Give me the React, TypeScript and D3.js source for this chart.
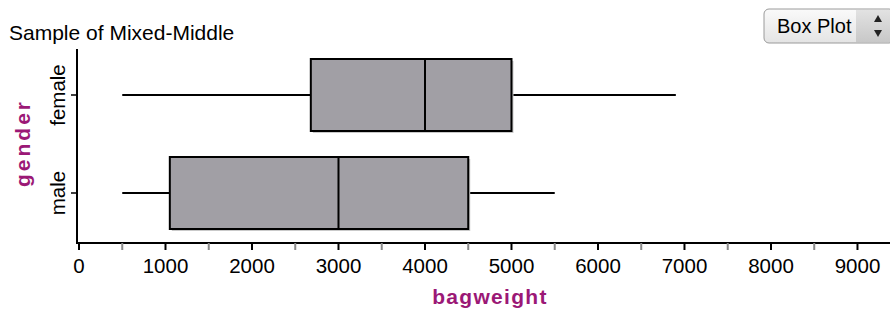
import * as d3 from 'd3';
import { useEffect, useRef } from 'react';

const categories = ['female', 'male'];
const whiskerLow = [500, 500];
const q1 = [2680, 1050];
const medians = [4000, 3000];
const q3 = [5000, 4500];
const whiskerHigh = [6900, 5500];
const majorTicks = [0, 1000, 2000, 3000, 4000, 5000, 6000, 7000, 8000, 9000];
const minorTicks = [500, 1500, 2500, 3500, 4500, 5500, 6500, 7500, 8500, 9500];

const W = 890;
const H = 311;
const purple = '#9b1876';
const boxFill = '#a19fa5';
const font = '"Liberation Sans", Arial, sans-serif';

export default function App() {
  const svgRef = useRef<SVGSVGElement>(null);

  useEffect(() => {
    if (!svgRef.current) return;
    const svg = d3.select(svgRef.current);
    svg.selectAll('*').remove();

    const x = d3.scaleLinear().domain([0, 9376]).range([79, 890]);
    const y = d3.scaleBand().domain(categories).range([46, 242]).padding(0);
    const axisY = 243;
    const boxH = 72;

    const defs = svg.append('defs');
    const grad = defs.append('linearGradient').attr('id', 'btn').attr('x1', 0).attr('y1', 0).attr('x2', 0).attr('y2', 1);
    grad.append('stop').attr('offset', '0%').attr('stop-color', '#fafafa');
    grad.append('stop').attr('offset', '100%').attr('stop-color', '#e4e4e4');
    const grad2 = defs.append('linearGradient').attr('id', 'spin').attr('x1', 0).attr('y1', 0).attr('x2', 0).attr('y2', 1);
    grad2.append('stop').attr('offset', '0%').attr('stop-color', '#e2e2e2');
    grad2.append('stop').attr('offset', '100%').attr('stop-color', '#c8c8c8');

    // title
    svg.append('text')
      .attr('x', 9).attr('y', 40)
      .style('font-family', font).style('font-size', '21px').style('fill', '#000')
      .text('Sample of Mixed-Middle');

    // Box Plot control
    const btn = svg.append('g');
    btn.append('rect').attr('x', 764).attr('y', 9).attr('width', 130).attr('height', 34).attr('rx', 5)
      .attr('fill', 'url(#btn)').attr('stroke', '#9a9a9a');
    btn.append('rect').attr('x', 856).attr('y', 10).attr('width', 34).attr('height', 32)
      .attr('fill', 'url(#spin)');
    btn.append('text').attr('x', 777).attr('y', 33)
      .style('font-family', font).style('font-size', '20px').style('fill', '#000')
      .text('Box Plot');
    btn.append('path').attr('d', 'M874,22 L882,22 L878,15 Z').attr('fill', '#222');
    btn.append('path').attr('d', 'M874,30 L882,30 L878,37 Z').attr('fill', '#222');

    const rows = categories.map((c, i) => ({
      c, lo: whiskerLow[i], q1: q1[i], med: medians[i], q3: q3[i], hi: whiskerHigh[i],
    }));

    const g = svg.append('g');
    rows.forEach(d => {
      const cy = (y(d.c) ?? 0) + y.bandwidth() / 2;
      g.append('line').attr('x1', x(d.lo)).attr('x2', x(d.q1)).attr('y1', cy).attr('y2', cy)
        .attr('stroke', '#000').attr('stroke-width', 2);
      g.append('line').attr('x1', x(d.q3)).attr('x2', x(d.hi)).attr('y1', cy).attr('y2', cy)
        .attr('stroke', '#000').attr('stroke-width', 2);
      // shadow
      g.append('rect').attr('x', x(d.q1) + 2).attr('y', cy - boxH / 2 + 2)
        .attr('width', x(d.q3) - x(d.q1)).attr('height', boxH)
        .attr('fill', '#c9c9c9');
      g.append('rect').attr('x', x(d.q1)).attr('y', cy - boxH / 2)
        .attr('width', x(d.q3) - x(d.q1)).attr('height', boxH)
        .attr('fill', boxFill).attr('stroke', '#000').attr('stroke-width', 2);
      g.append('line').attr('x1', x(d.med)).attr('x2', x(d.med))
        .attr('y1', cy - boxH / 2).attr('y2', cy + boxH / 2)
        .attr('stroke', '#000').attr('stroke-width', 2);
      // y tick
      g.append('line').attr('x1', 71).attr('x2', 77).attr('y1', cy).attr('y2', cy)
        .attr('stroke', '#000').attr('stroke-width', 1.5);
      g.append('text')
        .attr('transform', `translate(65,${cy}) rotate(-90)`)
        .attr('text-anchor', 'middle')
        .style('font-family', font).style('font-size', '20.5px').style('fill', '#000')
        .text(d.c);
    });

    // axes
    svg.append('line').attr('x1', 77).attr('x2', 77).attr('y1', 49).attr('y2', axisY + 1)
      .attr('stroke', '#000').attr('stroke-width', 2);
    svg.append('line').attr('x1', 76).attr('x2', W).attr('y1', axisY).attr('y2', axisY)
      .attr('stroke', '#000').attr('stroke-width', 2);

    svg.append('g').selectAll('line.minor').data(minorTicks).join('line')
      .attr('x1', d => x(d)).attr('x2', d => x(d)).attr('y1', axisY).attr('y2', axisY + 7)
      .attr('stroke', '#8a8a8a').attr('stroke-width', 2);
    svg.append('g').selectAll('line.major').data(majorTicks).join('line')
      .attr('x1', d => x(d)).attr('x2', d => x(d)).attr('y1', axisY).attr('y2', axisY + 7)
      .attr('stroke', '#000').attr('stroke-width', 2);
    svg.append('g').selectAll('text').data(majorTicks).join('text')
      .attr('x', d => x(d)).attr('y', 273)
      .attr('text-anchor', 'middle')
      .style('font-family', font).style('font-size', '20.5px').style('fill', '#000')
      .text(d => String(d));

    // axis titles
    svg.append('text')
      .attr('x', 490).attr('y', 304).attr('text-anchor', 'middle')
      .style('font-family', font).style('font-size', '21px').style('font-weight', 'bold')
      .style('letter-spacing', '1.3px').style('fill', purple)
      .text('bagweight');
    svg.append('text')
      .attr('transform', 'translate(30,143) rotate(-90)').attr('text-anchor', 'middle')
      .style('font-family', font).style('font-size', '21px').style('font-weight', 'bold')
      .style('letter-spacing', '3px').style('fill', purple)
      .text('gender');
  }, []);

  return (
    <svg ref={svgRef} width={W} height={H}
      style={{ position: 'absolute', left: 0, top: 0, background: '#fff' }} />
  );
}
